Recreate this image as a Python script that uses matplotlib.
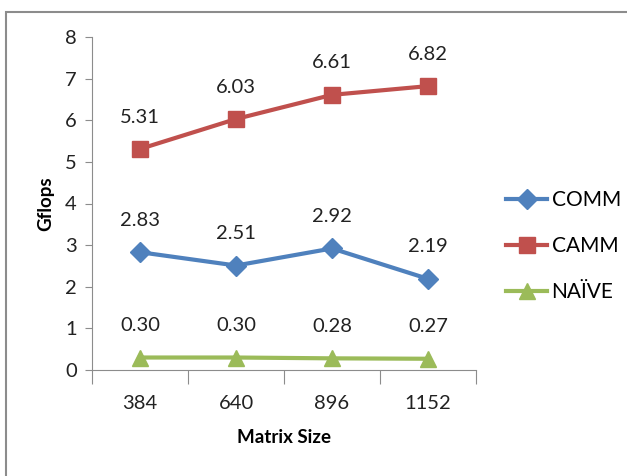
import matplotlib
matplotlib.use("Agg")
import matplotlib.pyplot as plt
from matplotlib.patches import Rectangle

categories = ["384", "640", "896", "1152"]
comm = [2.83, 2.51, 2.92, 2.19]
camm = [5.31, 6.03, 6.61, 6.82]
naive = [0.30, 0.30, 0.28, 0.27]
series_names = ["COMM", "CAMM", "NAÏVE"]

plt.rcParams['font.family'] = ['Lato', 'DejaVu Sans']

fig = plt.figure(figsize=(6.27, 4.76), dpi=100)
fig.patches.append(Rectangle((6/627, -0.1), 1.2, (1 - 12/476) + 0.1, transform=fig.transFigure,
                             fill=False, edgecolor='#8c8c8c', linewidth=1.5))
ax = fig.add_axes([92/627, 1 - 370/476, 384/627, 333/476])

x = [i + 0.5 for i in range(len(categories))]
colors = ['#4F81BD', '#C0504D', '#9BBB59']
markers = ['D', 's', '^']
msizes = [10, 12, 12]
for vals, name, c, m, ms in zip([comm, camm, naive], series_names, colors, markers, msizes):
    ax.plot(x, vals, color=c, lw=3, marker=m, markersize=ms, label=name, clip_on=False, zorder=3)
    for xi, v in zip(x, vals):
        ax.annotate(f"{v:.2f}", (xi, v), xytext=(0, 23), textcoords='offset points',
                    ha='center', va='center', fontsize=14.5, color='#222222')

ax.set_xlim(0, 4)
ax.set_ylim(0, 8)
ax.set_yticks(range(0, 9))
ax.set_xticks([0, 1, 2, 3, 4])
ax.set_xticklabels([])
ax.set_xticks(x, minor=True)
ax.set_xticklabels(categories, minor=True)
ax.tick_params(axis='x', which='major', length=10, color='#8c8c8c', direction='out')
ax.tick_params(axis='x', which='minor', length=0, pad=18, labelsize=14.5, labelcolor='#222222')
ax.tick_params(axis='y', length=5, color='#8c8c8c', labelsize=14.5, pad=6, labelcolor='#222222')
for s in ['top', 'right']:
    ax.spines[s].set_visible(False)
for s in ['left', 'bottom']:
    ax.spines[s].set_color('#8c8c8c')
ax.set_xlabel("Matrix Size", fontsize=13.5, fontweight='bold', labelpad=12)
ax.set_ylabel("Gflops", fontsize=13.5, fontweight='bold', labelpad=8)

fig.legend(loc='center left', bbox_to_anchor=(487/627, 1 - 246/476), frameon=False,
           fontsize=15, labelspacing=1.25, handlelength=2.0, handletextpad=0.2)

fig.savefig("out.png", dpi=100)
